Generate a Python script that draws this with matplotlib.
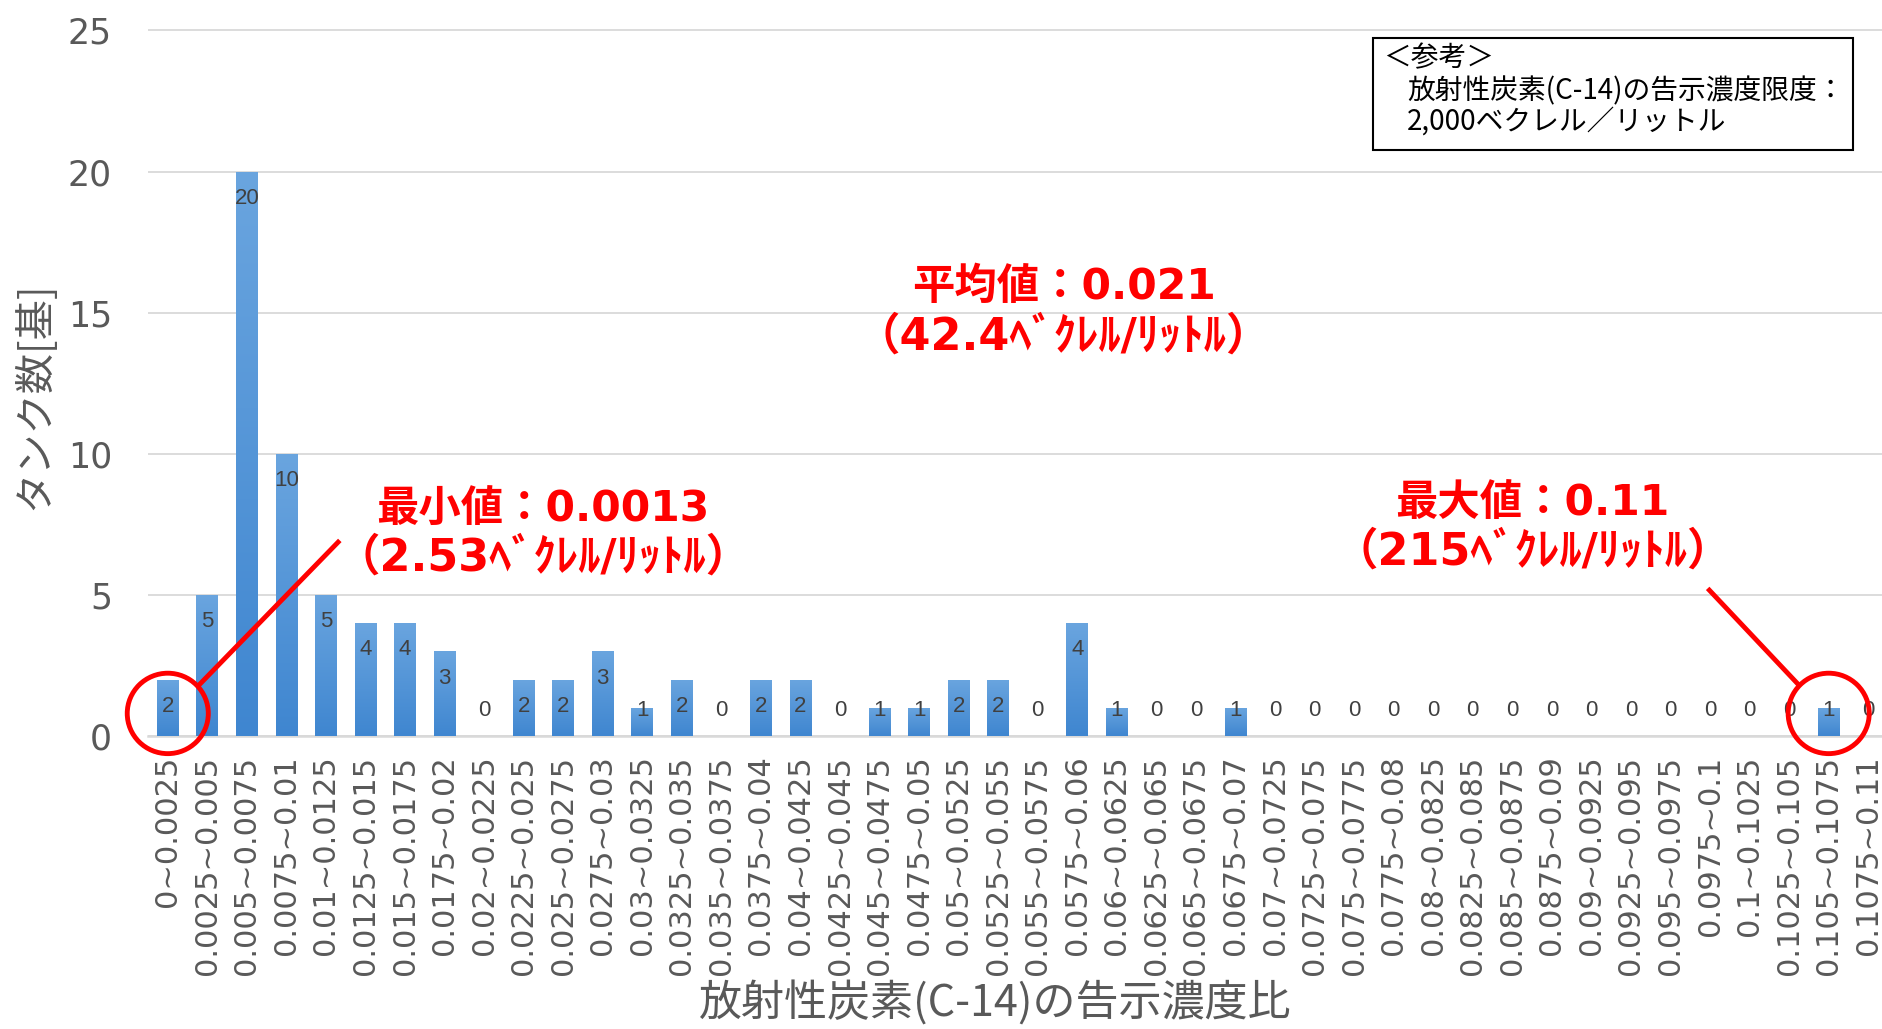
import matplotlib
matplotlib.use("Agg")
import matplotlib.pyplot as plt
import numpy as np
from matplotlib.patches import Ellipse, Rectangle
from matplotlib.colors import LinearSegmentedColormap

# ---- data ----
edges = ["0", "0.0025", "0.005", "0.0075", "0.01", "0.0125", "0.015", "0.0175", "0.02",
         "0.0225", "0.025", "0.0275", "0.03", "0.0325", "0.035", "0.0375", "0.04", "0.0425",
         "0.045", "0.0475", "0.05", "0.0525", "0.055", "0.0575", "0.06", "0.0625", "0.065",
         "0.0675", "0.07", "0.0725", "0.075", "0.0775", "0.08", "0.0825", "0.085", "0.0875",
         "0.09", "0.0925", "0.095", "0.0975", "0.1", "0.1025", "0.105", "0.1075", "0.11"]
categories = [f"{a}~{b}" for a, b in zip(edges[:-1], edges[1:])]
counts = [2, 5, 20, 10, 5, 4, 4, 3, 0, 2, 2, 3, 1, 2, 0, 2, 2, 0, 1, 1, 2, 2, 0, 4, 1, 0, 0, 1,
          0, 0, 0, 0, 0, 0, 0, 0, 0, 0, 0, 0, 0, 0, 1, 0]
yticks = [0, 5, 10, 15, 20, 25]

xlabel = "放射性炭素(C-14)の告示濃度比"
ylabel = "タンク数[基]"
mean_text = ["平均値：0.021", "（42.4ﾍﾞｸﾚﾙ/ﾘｯﾄﾙ）"]
min_text = ["最小値：0.0013", "（2.53ﾍﾞｸﾚﾙ/ﾘｯﾄﾙ）"]
max_text = ["最大値：0.11", "（215ﾍﾞｸﾚﾙ/ﾘｯﾄﾙ）"]
ref_lines = ["＜参考＞", "放射性炭素(C-14)の告示濃度限度：", "2,000ベクレル／リットル"]

W, H = 1883, 1029
fig = plt.figure(figsize=(W / 100, H / 100), dpi=100)
fig.patch.set_facecolor("white")

left_px, right_px, top_px, bottom_px = 148, 1888, 29, 736
ax = fig.add_axes([left_px / W, 1 - bottom_px / H,
                   (right_px - left_px) / W, (bottom_px - top_px) / H])

x = np.arange(len(categories))
bars = ax.bar(x, counts, width=0.55, color="#5194D8", zorder=3)

# subtle vertical gradient in bars
cmap = LinearSegmentedColormap.from_list("b", ["#3F86D0", "#6AA5DF"])
grad = np.linspace(0, 1, 256).reshape(-1, 1)
for r in bars:
    h = r.get_height()
    if h > 0:
        im = ax.imshow(grad, extent=[r.get_x(), r.get_x() + r.get_width(), 0, h],
                       origin="lower", aspect="auto", cmap=cmap, zorder=3.1)
        im.set_clip_path(r)

ax.set_xlim(-0.5, len(categories) - 0.5)
ax.set_ylim(0, 25.05)
ax.set_yticks(yticks)
ax.set_xticks(x)
ax.set_xticklabels(categories, rotation=90, fontsize=22, color="#595959",
                   family="DejaVu Sans")
ax.tick_params(axis="x", length=0, pad=14)
ax.tick_params(axis="y", length=0, pad=26, labelsize=25, labelcolor="#595959")
for s in ["top", "right", "left"]:
    ax.spines[s].set_visible(False)
ax.spines["bottom"].set_color("#D9D9D9")
ax.spines["bottom"].set_linewidth(1.8)
ax.grid(axis="y", color="#D9D9D9", linewidth=1.3, zorder=0)
ax.set_axisbelow(True)

# data labels
for xi, v in zip(x, counts):
    ax.text(xi, max(v - 0.95, 0.9), str(v), ha="center", va="center",
            fontsize=16, color="#404040", family="Liberation Sans", zorder=5)

# axis titles
fig.text(995 / W, 1 - 1004 / H, xlabel, ha="center", va="center", fontsize=31,
         color="#595959", family=["Noto Sans CJK JP"])
fig.text(34 / W, 1 - 396 / H, ylabel, ha="center", va="center", fontsize=29,
         rotation=90, color="#595959", family=["Noto Sans CJK JP"])

# red annotations
red = "#FF0000"
fam_red = ["DejaVu Sans", "Noto Sans CJK JP"]
def red_block(lines, xd, y1, y2):
    ax.text(xd, y1, lines[0], ha="center", va="center", fontsize=30.5, color=red,
            fontweight="bold", family=fam_red, zorder=6)
    ax.text(xd, y2, lines[1], ha="center", va="center", fontsize=32, color=red,
            fontweight="bold", family=fam_red, zorder=6)

red_block(mean_text, 22.65, 15.9, 14.15)
red_block(min_text, 9.48, 8.0, 6.3)
red_block(max_text, 34.51, 8.27, 6.5)

# circles and leader lines
ax.add_patch(Ellipse((0, 0.8), 2.05, 2.85, fill=False, edgecolor=red, linewidth=3.5, zorder=7,
                     clip_on=False))
ax.add_patch(Ellipse((42, 0.8), 2.05, 2.85, fill=False, edgecolor=red, linewidth=3.5, zorder=7,
                     clip_on=False))
ax.plot([0.75, 4.35], [1.75, 6.93], color=red, linewidth=3.5, zorder=7, solid_capstyle="butt")
ax.plot([38.94, 41.25], [5.23, 1.80], color=red, linewidth=3.5, zorder=7, solid_capstyle="butt")

# reference box
bx0, bx1, by0, by1 = 1373, 1853, 38, 150
fig.patches.append(Rectangle((bx0 / W, 1 - by1 / H), (bx1 - bx0) / W, (by1 - by0) / H,
                             transform=fig.transFigure, facecolor="white",
                             edgecolor="black", linewidth=1.5, zorder=10))
fig.text(1383 / W, 1 - 58 / H, ref_lines[0], ha="left", va="center", fontsize=20,
         color="black", family=["Noto Sans CJK JP"], zorder=11)
fig.text(1407 / W, 1 - 91 / H, ref_lines[1], ha="left", va="center", fontsize=20,
         color="black", family=["Noto Sans CJK JP"], zorder=11)
fig.text(1407 / W, 1 - 122 / H, ref_lines[2], ha="left", va="center", fontsize=20,
         color="black", family=["Noto Sans CJK JP"], zorder=11)

fig.savefig("out.png", dpi=100)
